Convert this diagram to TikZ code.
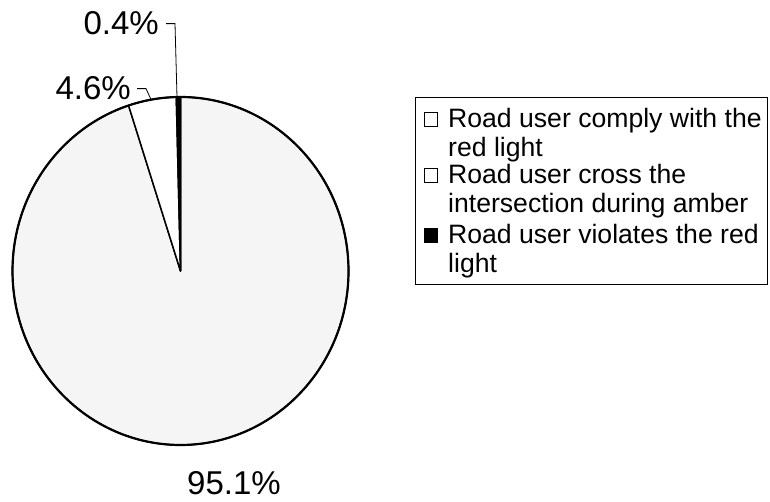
\documentclass[tikz,border=0pt]{standalone}
\usepackage{fontspec}
\setmainfont{Liberation Sans}
\tikzstyle{slice} = [draw=black, line width=1.5pt, line join=round]
\tikzstyle{pct} = [inner sep=0pt, font=\fontsize{33}{36}\selectfont]
\tikzstyle{entry} = [inner sep=0pt, align=left, anchor=north west, font=\fontsize{26.6}{29.5}\selectfont]
\tikzstyle{keybox} = [draw=black, line width=1pt, minimum width=13pt, minimum height=14pt, inner sep=0pt, anchor=south west]
\tikzstyle{leader} = [line width=0.8pt]

\begin{document}
\begin{tikzpicture}[x=1pt, y=1pt]
	\useasboundingbox (0,0) rectangle (770,502);
	\coordinate (ctr) at (180.5,231);

	% pie
	\filldraw [slice, fill=black!4] (ctr) -- ++(108:168 and 174) arc[start angle=108, end angle=450, x radius=168, y radius=174] -- cycle;
	\filldraw [slice, fill=white] (ctr) -- ++(91.44:168 and 174) arc[start angle=91.44, end angle=108, x radius=168, y radius=174] -- cycle;
	\filldraw [slice, fill=black] (ctr) -- ++(90:168 and 174) arc[start angle=90, end angle=91.44, x radius=168, y radius=174] -- cycle;
	\draw [line width=2.2pt] (ctr) ellipse [x radius=168, y radius=174];

	\node (p04) [pct, anchor=base east] at (159,467) {0.4\%};
	\node (p46) [pct, anchor=base east] at (131,402) {4.6\%};
	\node (p951) [pct, anchor=base] at (234,7) {95.1\%};
	\coordinate (t04) at (177,405);
	\coordinate (t46) at (151,402.5);
	\draw [leader] ([xshift=7pt]p04.east) -- ++(9,0) -- (t04);
	\draw [leader] ([xshift=6pt]p46.east) -- ++(9,0) -- (t46);

	% legend
	\node (legend) [draw, line width=0.9pt, minimum width=352pt, minimum height=187pt, anchor=south west] at (415,217) {};
	\node (ent1) [entry] at (448,394) {Road user comply with the\\red light};
	\node (ent2) [entry] at (448,338) {Road user cross the\\intersection during amber};
	\node (ent3) [entry] at (448,278) {Road user violates the red\\light};
	\node (key1) [keybox, fill=white] at (424,375) {};
	\node (key2) [keybox, fill=white] at (424,319) {};
	\node (key3) [keybox, fill=black] at (424,259) {};
\end{tikzpicture}
\end{document}
